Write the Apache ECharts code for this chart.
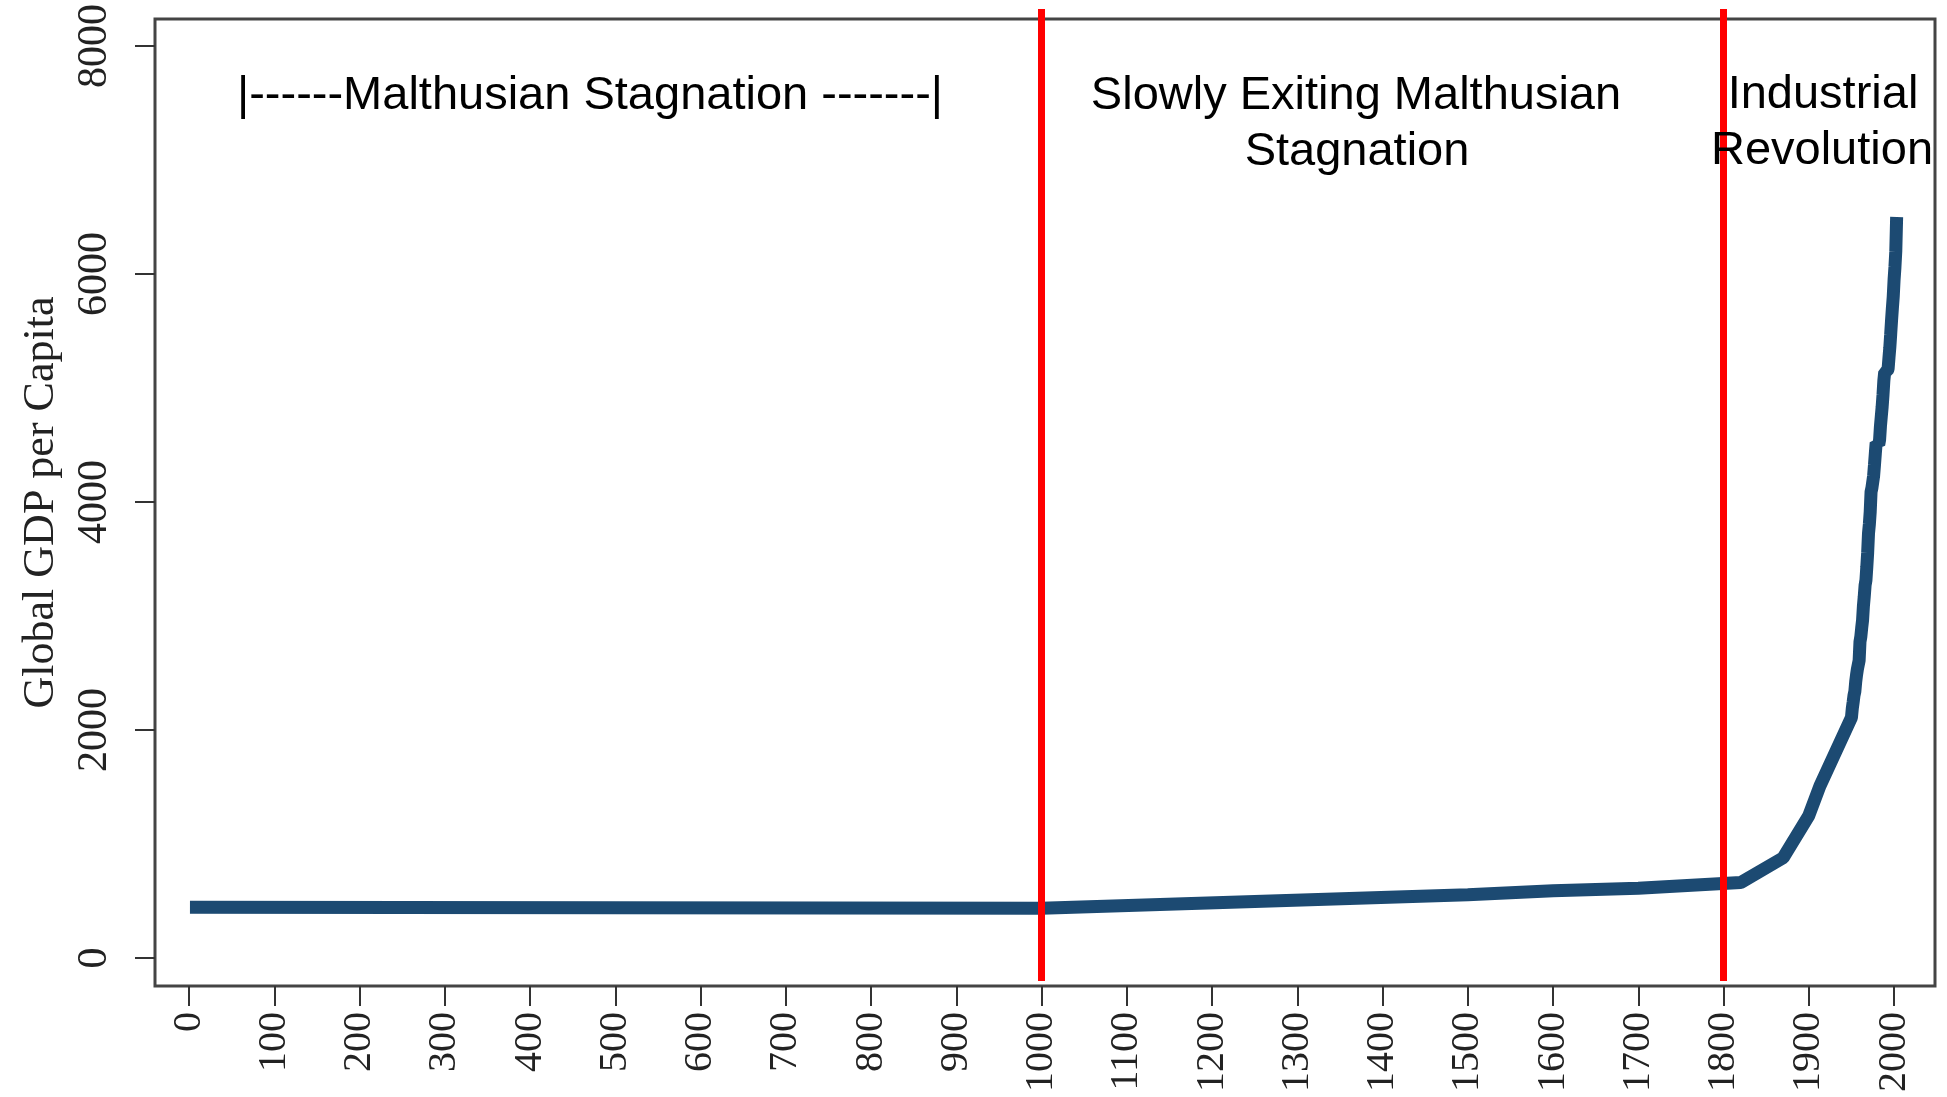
<!DOCTYPE html>
<html>
<head>
<meta charset="utf-8">
<script src="https://cdn.jsdelivr.net/npm/echarts@6/dist/echarts.min.js"></script>
<style>
  html, body { margin: 0; padding: 0; background: #fff; }
  #chart { width: 1947px; height: 1097px; }
</style>
</head>
<body>
<div id="chart"></div>
<script>
// years of each point on the curve
const years = [1, 1000, 1500, 1600, 1700, 1820, 1870, 1900, 1913,
  1950, 1951, 1952, 1953, 1954, 1955, 1956, 1957, 1958, 1959,
  1960, 1961, 1962, 1963, 1964, 1965, 1966, 1967, 1968, 1969,
  1970, 1971, 1972, 1973, 1974, 1975, 1976, 1977, 1978, 1979,
  1980, 1981, 1982, 1983, 1984, 1985, 1986, 1987, 1988, 1989,
  1990, 1991, 1992, 1993, 1994, 1995, 1996, 1997, 1998, 1999,
  2000, 2001, 2002, 2003]
// global GDP per capita
const gdp = [445, 437, 555, 590, 612, 662, 880, 1250, 1510,
  2110, 2190, 2245, 2305, 2340, 2425, 2485, 2535, 2540, 2610,
  2775, 2820, 2895, 2960, 3085, 3170, 3270, 3315, 3430, 3555,
  3725, 3805, 3915, 4090, 4125, 4110, 4230, 4325, 4425, 4520,
  4515, 4530, 4505, 4545, 4665, 4750, 4835, 4940, 5065, 5140,
  5150, 5125, 5150, 5170, 5265, 5355, 5470, 5590, 5700, 5800,
  5950, 6060, 6200, 6500]
// tick labels
const xTicks = [0, 100, 200, 300, 400, 500, 600, 700, 800, 900, 1000,
  1100, 1200, 1300, 1400, 1500, 1600, 1700, 1800, 1900, 2000]
const yTicks = [0, 2000, 4000, 6000, 8000]
// era borders (red lines)
const eraBreaks = [1000, 1800]

const chart = echarts.init(document.getElementById('chart'))
const serif = '"Liberation Serif", "Times New Roman", serif'
const sans = '"Liberation Sans", Arial, sans-serif'
const tickStyle = { color: '#333', width: 2 }

const label = (text, x, y) => ({
  type: 'text',
  x, y,
  z: 100,
  style: {
    text,
    fill: '#000',
    font: '47px ' + sans,
    align: 'center',
    verticalAlign: 'middle'
  }
})

chart.setOption({
  animation: false,
  backgroundColor: '#fff',
  grid: [
    {
      left: 155, right: 12, top: 19, bottom: 111,
      show: true, borderColor: '#444', borderWidth: 3
    },
    // taller twin grid so the red lines poke out of the frame a bit
    { left: 155, right: 12, top: 9, bottom: 116, show: false }
  ],
  xAxis: [
    {
      type: 'value', gridIndex: 0, min: -40, max: 2048,
      axisLine: { show: false, onZero: false },
      splitLine: { show: false },
      axisTick: { show: true, length: 20, lineStyle: tickStyle, customValues: xTicks },
      axisLabel: {
        customValues: xTicks, rotate: 90, margin: 26,
        formatter: v => String(v),
        fontFamily: serif, fontSize: 40, color: '#222'
      }
    },
    { type: 'value', gridIndex: 1, min: -40, max: 2048, show: false }
  ],
  yAxis: [
    {
      type: 'value', gridIndex: 0, min: -245, max: 8237,
      name: 'Global GDP per Capita',
      nameLocation: 'middle', nameGap: 92,
      nameTextStyle: { fontFamily: serif, fontSize: 44, color: '#222' },
      axisLine: { show: false, onZero: false },
      splitLine: { show: false },
      axisTick: { show: true, length: 20, lineStyle: tickStyle, customValues: yTicks },
      axisLabel: {
        customValues: yTicks, rotate: 90, margin: 39,
        formatter: v => String(v),
        fontFamily: serif, fontSize: 42, color: '#222'
      }
    },
    { type: 'value', gridIndex: 1, min: 0, max: 1, show: false }
  ],
  series: [
    {
      type: 'line',
      xAxisIndex: 0, yAxisIndex: 0,
      data: years.map((y, i) => [y, gdp[i]]),
      showSymbol: false,
      lineStyle: { color: '#1c4a72', width: 13 }
    },
    {
      type: 'line',
      xAxisIndex: 1, yAxisIndex: 1,
      data: [],
      markLine: {
        silent: true,
        symbol: 'none',
        label: { show: false },
        lineStyle: { color: '#ff0000', width: 7, type: 'solid' },
        data: eraBreaks.map(v => ({ xAxis: v }))
      }
    }
  ],
  graphic: [
    label('|------Malthusian Stagnation -------|', 590, 96),
    label('Slowly Exiting Malthusian', 1356, 96),
    label('Stagnation', 1357, 152),
    label('Industrial', 1823, 95),
    label('Revolution', 1822, 151)
  ]
})
</script>
</body>
</html>
